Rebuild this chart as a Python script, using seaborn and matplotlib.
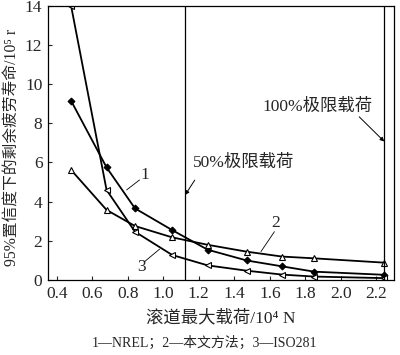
import numpy as np
import pandas as pd
import matplotlib
matplotlib.use('Agg')
import matplotlib.pyplot as plt
import seaborn as sns

# 滚道最大载荷 /10^4 N
load = [0.48, 0.68, 0.84, 1.05, 1.25, 1.47, 1.67, 1.85, 2.245]
# 1—NREL
life_nrel = [9.15, 5.75, 3.66, 2.55, 1.55, 1.0, 0.7, 0.43, 0.27]
# 2—本文方法
life_this = [5.62, 3.58, 2.76, 2.18, 1.8, 1.45, 1.2, 1.11, 0.89]
# 3—ISO281
life_iso = [14.0, 4.6, 2.47, 1.28, 0.75, 0.48, 0.28, 0.18, 0.1]

limit_100 = 2.245
limit_50 = limit_100 / 2

sns.set_style('ticks')
plt.rcParams['font.family'] = ['Liberation Serif', 'DejaVu Serif', 'Noto Sans CJK SC']
plt.rcParams['xtick.direction'] = 'in'
plt.rcParams['ytick.direction'] = 'in'

fig = plt.figure(figsize=(4, 3.55), dpi=100)
ax = fig.add_axes([0.12, 0.211, 0.865, 0.773])

sns.lineplot(x=load, y=life_nrel, ax=ax, color='black', lw=1.3, marker='D',
             markersize=3.5, markerfacecolor='black', markeredgecolor='black')
sns.lineplot(x=load, y=life_this, ax=ax, color='black', lw=1.3, marker='^',
             markersize=5, markerfacecolor='white', markeredgecolor='black', markeredgewidth=0.8)
sns.lineplot(x=load, y=life_iso, ax=ax, color='black', lw=1.3, marker='<',
             markersize=5, markerfacecolor='white', markeredgecolor='black', markeredgewidth=0.8)

ax.axvline(limit_50, color='black', lw=0.9)
ax.axvline(limit_100, color='black', lw=0.9)

ax.set_xlim(0.35, 2.30)
ax.set_ylim(0, 14)
ax.set_xticks(np.arange(0.4, 2.21, 0.2))
ax.set_xticklabels(['0.4', '0.6', '0.8', '1.0', '1.2', '1.4', '1.6', '1.8', '2.0', '2.2'])
ax.set_yticks(range(0, 15, 2))
ax.tick_params(labelsize=12.5, length=3, width=0.8, pad=4)
for s in ax.spines.values():
    s.set_linewidth(0.9)
    s.set_color('black')

ax.set_xlabel('滚道最大载荷/10⁴ N', fontsize=12.5, labelpad=6)
ax.set_ylabel('95%置信度下的剩余疲劳寿命/10⁵ r', fontsize=11.3)
ax.yaxis.set_label_coords(-0.08, 0.485)

# 标注
arr = dict(arrowstyle='-|>', color='black', lw=0.7, mutation_scale=6, shrinkA=0, shrinkB=0)
ax.text(1.165, 5.98, '50%极限载荷', fontsize=12.5, ha='left', va='center')
ax.annotate('', xy=(limit_50, 4.34), xytext=(1.177, 5.1), arrowprops=arr)
ax.text(1.558, 8.84, '100%极限载荷', fontsize=12.5, ha='left', va='center')
ax.annotate('', xy=(limit_100, 7.07), xytext=(2.104, 8.33), arrowprops=arr)

line_kw = dict(arrowstyle='-', color='black', lw=0.6, shrinkA=0, shrinkB=0)
ax.text(0.895, 5.37, '1', fontsize=12.5, ha='center', va='center')
ax.annotate('', xy=(0.793, 4.6), xytext=(0.866, 5.11), arrowprops=line_kw)
ax.text(1.632, 2.91, '2', fontsize=12.5, ha='center', va='center')
ax.annotate('', xy=(1.55, 1.45), xytext=(1.626, 2.47), arrowprops=line_kw)
ax.text(0.876, 0.68, '3', fontsize=12.5, ha='center', va='center')
ax.annotate('', xy=(0.979, 1.58), xytext=(0.894, 0.94), arrowprops=line_kw)

fig.text(0.51, 0.033, '1—NREL；2—本文方法；3—ISO281', ha='center', va='center', fontsize=10)

fig.savefig('out.png', dpi=100)
